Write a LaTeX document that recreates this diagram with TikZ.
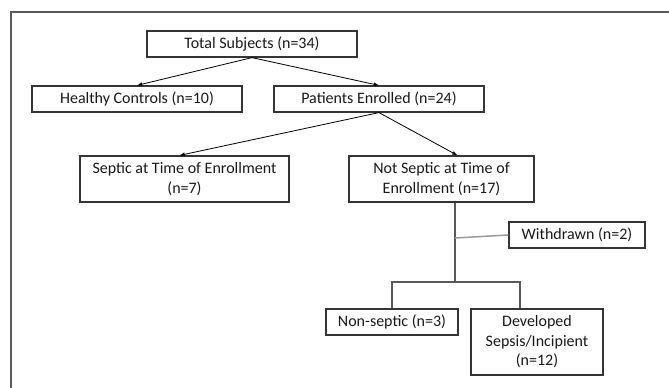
\documentclass[tikz,border=0pt]{standalone}
\usepackage{fontspec}
\setmainfont{Carlito}
\usetikzlibrary{positioning}

\definecolor{boxgray}{HTML}{353535}
\definecolor{treegray}{HTML}{5A5A5A}
\definecolor{lightgray}{HTML}{9A9A9A}

\begin{document}
\begin{tikzpicture}[%
      x=1pt, y=-1pt,
      every node/.style={rectangle, draw=boxgray, line width=1.2pt, align=center,
        inner sep=0pt, text=black!90, font=\fontsize{16}{19.5}\selectfont},
      onebox/.style={minimum height=26pt},
      flow/.style={->, black, line width=0.8pt},
      tree/.style={treegray, line width=1.5pt},
      >=latex
    ]
    \useasboundingbox (0,0) rectangle (669,388);
    % outer frame, cut by the page on the right and bottom
    \draw[treegray, line width=2pt] (11,388) -- (11,12) -- (669,12);

        \node [onebox, minimum width=210pt] (total) at (252,44) {Total Subjects (n=34)};
        \node [onebox, minimum width=210pt] (healthy) at (137,99) {Healthy Controls (n=10)};
    \node [onebox, minimum width=210pt] (patients) at (379,99) {Patients Enrolled (n=24)};
    \node [minimum width=209pt, minimum height=46pt] (septic) at (184.5,179) {Septic at Time of Enrollment\\(n=7)};
    \node [minimum width=185pt, minimum height=46pt] (notseptic) at (441.5,179) {Not Septic at Time of\\Enrollment (n=17)};
    \node [onebox, minimum width=136pt] (withdrawn) at (577,235) {Withdrawn (n=2)};
    \node [onebox, minimum width=132pt] (nonseptic) at (392,322) {Non-septic (n=3)};
    \node [minimum width=132pt, minimum height=66pt] (developed) at (537,342) {Developed\\Sepsis/Incipient\\(n=12)};

    \coordinate (stem) at ([xshift=13.5pt]notseptic.south);
    \coordinate (split) at (455,282);
    \coordinate (wjoin) at (455,238);

    \path
    (total.south) edge[flow] (healthy.north)
    (total.south) edge[flow] (patients.north)
    (patients.south) edge[flow] ([xshift=-5pt]septic.north)
    (patients.south) edge[flow] ([xshift=16pt]notseptic.north)
    ;
    \draw[tree] (stem) -- (split);
    \draw[lightgray, line width=1.5pt] (wjoin) -- (withdrawn.west);
    \draw[tree] (nonseptic.north) |- (split) -| ([xshift=-17pt]developed.north);
      \end{tikzpicture}
\end{document}
